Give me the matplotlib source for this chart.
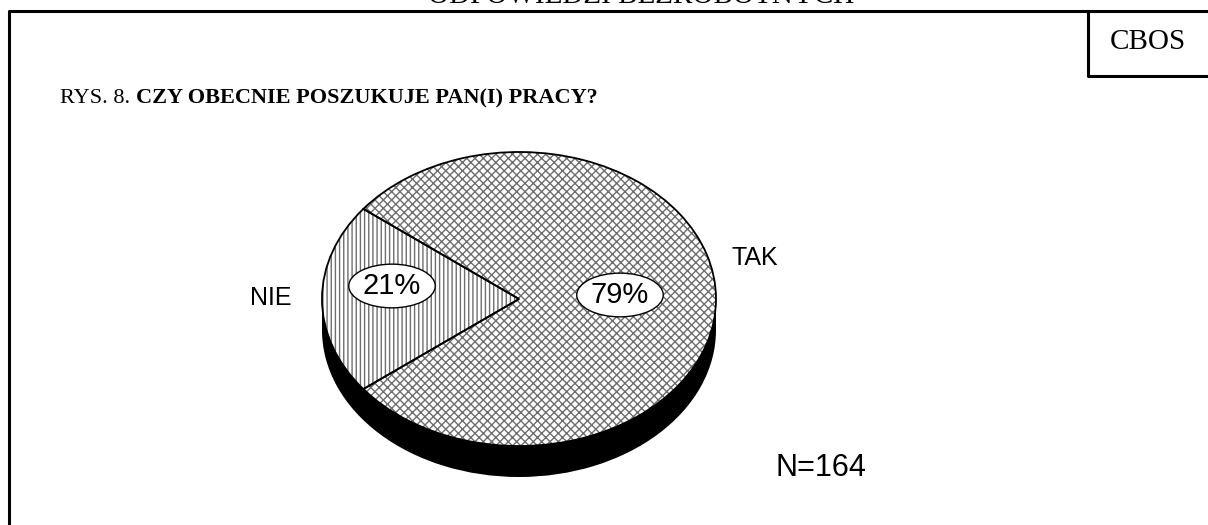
import matplotlib
matplotlib.use("Agg")
import matplotlib.pyplot as plt
from matplotlib.lines import Line2D

# dane z wykresu
kategorie = ["TAK", "NIE"]
procenty = [79, 21]
wzory = ["xxxx", "||||"]
liczba_n = 164
naglowek = "ODPOWIEDZI BEZROBOTNYCH"
rys_nr = "RYS. 8. "
pytanie = "CZY OBECNIE POSZUKUJE PAN(I) PRACY?"

W, H = 1208, 525
plt.rcParams["hatch.linewidth"] = 1.0

fig = plt.figure(figsize=(W / 100, H / 100), dpi=100)

# tlo w pikselach: ramka, tytuly
bg = fig.add_axes([0, 0, 1, 1])
bg.set_xlim(0, W)
bg.set_ylim(H, 0)
bg.axis("off")
bg.add_line(Line2D([9, 9, W], [H, 11, 11], color="black", lw=2.2))
bg.add_line(Line2D([1088, 1088, W], [11, 76, 76], color="black", lw=2.2))
# naglowek ucięty u góry, jak w oryginale
bg.text(641, 3, naglowek, ha="center", va="baseline", fontsize=21,
        family="Liberation Serif")
bg.text(1148, 42, "CBOS", ha="center", va="center", fontsize=21,
        family="Liberation Serif")
t1 = bg.text(60, 108, rys_nr, ha="left", va="bottom", fontsize=16,
             family="Liberation Serif")
bg.annotate(pytanie, xy=(1, 0), xycoords=t1, ha="left", va="bottom",
            fontsize=16, family="Liberation Serif", fontweight="bold")

# os kolowa: jednostka = polos elipsy (197 px poziomo, 147 px pionowo)
cx, cy, a, b = 519, 299, 197, 147
ax = fig.add_axes([0, 0, 1, 1])
ax.patch.set_alpha(0)
glebokosc = 31 / b
start = -procenty[0] / 100 * 360 / 2

# bok (czarny) - przesuniety kolowy + pas
ax.pie([sum(procenty)], center=(0, -glebokosc), colors=["black"],
       wedgeprops=dict(linewidth=0))
ax.fill_between([-1, 1], -glebokosc, 0, color="black", lw=0)

# wierzch z wzorami
wedges, _ = ax.pie(procenty, startangle=start, colors=["white"] * 2,
                   wedgeprops=dict(edgecolor="#6e6e6e", linewidth=0))
for w, h in zip(wedges, wzory):
    w.set_hatch(h)
ax.pie(procenty, startangle=start,
       wedgeprops=dict(fill=False, edgecolor="black", linewidth=1.3))

ax.set_aspect("auto")
ax.set_xlim((0 - cx) / a, (W - cx) / a)
ax.set_ylim((cy - H) / b, cy / b)
ax.axis("off")


def px(x, y):
    return (x - cx) / a, (cy - y) / b


ellipse = dict(boxstyle="ellipse,pad=0.05", fc="white", ec="black", lw=1)
pozycje_proc = [px(620, 295), px(392, 286)]
for p, pos in zip(procenty, pozycje_proc):
    ax.text(*pos, f"{p}%", ha="center", va="center", fontsize=21,
            family="Liberation Sans", bbox=ellipse)

pozycje_kat = [px(755, 258), px(271, 298)]
for k, pos in zip(kategorie, pozycje_kat):
    ax.text(*pos, k, ha="center", va="center", fontsize=18,
            family="Liberation Sans")

ax.text(*px(821, 468), f"N={liczba_n}", ha="center", va="center", fontsize=22,
        family="Liberation Sans")

fig.savefig("out.png", dpi=100)
